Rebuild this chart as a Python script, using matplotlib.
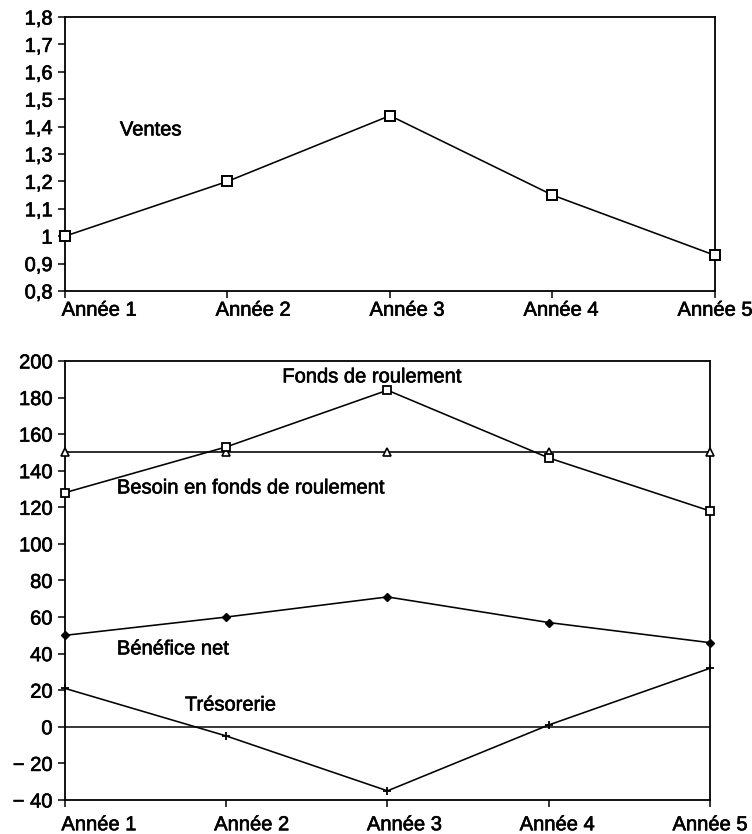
import numpy as np
import matplotlib.pyplot as plt
import matplotlib.patheffects as pe

plt.rcParams.update({
    "font.family": ["Liberation Sans", "DejaVu Sans"],
    "font.size": 14.5,
    "axes.linewidth": 1.3,
    "xtick.major.size": 5,
    "ytick.major.size": 5,
    "xtick.minor.size": 0,
    "xtick.major.width": 1.1,
    "ytick.major.width": 1.1,
    "lines.linewidth": 1.15,
})

# Data
annees = ["Année 1", "Année 2", "Année 3", "Année 4", "Année 5"]
ventes = [1.0, 1.2, 1.44, 1.15, 0.93]

fonds_roulement = [128, 153, 184, 147, 118]
besoin_fr = [150, 150, 150, 150, 150]
benefice_net = [50, 60, 71, 57, 46]
tresorerie = [21, -5, -35, 1, 32]

ventes_ticks = [0.8, 0.9, 1.0, 1.1, 1.2, 1.3, 1.4, 1.5, 1.6, 1.7, 1.8]
ventes_ticklabels = ["0,8", "0,9", "1", "1,1", "1,2", "1,3", "1,4", "1,5", "1,6", "1,7", "1,8"]
bas_ticks = [-40, -20, 0, 20, 40, 60, 80, 100, 120, 140, 160, 180, 200]
bas_ticklabels = ["\u2212 40", "\u2212 20"] + [str(v) for v in bas_ticks[2:]]

x = np.arange(1, len(annees) + 1)
# category names sit on their own, slightly wider-spread positions
label_pos = np.linspace(1.21, 5.0, len(annees))

# slightly heavier strokes for all text, like printed Helvetica
thick = [pe.withStroke(linewidth=0.45, foreground="black")]


def category_axis(ax, pad):
    ax.set_xlim(1, 5)
    ax.xaxis.remove_overlapping_locs = False
    ax.set_xticks(x)
    ax.set_xticklabels([])
    ax.set_xticks(label_pos, minor=True)
    ax.set_xticklabels(annees, minor=True)
    ax.tick_params(axis="x", which="minor", pad=pad)


fig = plt.figure(figsize=(7.52, 8.34), dpi=100)

# Upper panel: sales index
ax1 = fig.add_axes([0.0864, 0.6511, 0.8644, 0.3285])
ax1.plot(x, ventes, color="black", marker="s", markersize=7,
         markerfacecolor="white", markeredgecolor="black", markeredgewidth=1.4,
         clip_on=False, zorder=3)
category_axis(ax1, pad=7)
ax1.set_ylim(0.8, 1.8)
ax1.set_yticks(ventes_ticks)
ax1.set_yticklabels(ventes_ticklabels)
ax1.text(1.338, 1.388, "Ventes", ha="left", va="center", path_effects=thick)

# Lower panel: working capital, needs, profit, cash
ax2 = fig.add_axes([0.0864, 0.0408, 0.8577, 0.5264])
ax2.axhline(0, color="black", lw=1.1, zorder=1)
ax2.plot(x, besoin_fr, color="black", marker="^", markersize=6,
         markerfacecolor="white", markeredgecolor="black", markeredgewidth=1.2,
         clip_on=False, zorder=3)
ax2.plot(x, fonds_roulement, color="black", marker="s", markersize=6,
         markerfacecolor="white", markeredgecolor="black", markeredgewidth=1.3,
         clip_on=False, zorder=3)
ax2.plot(x, benefice_net, color="black", marker="D", markersize=4.5,
         markerfacecolor="black", markeredgecolor="black", clip_on=False, zorder=3)
ax2.plot(x, tresorerie, color="black", marker="+", markersize=6,
         markeredgewidth=1.3, clip_on=False, zorder=3)
category_axis(ax2, pad=11)
ax2.set_ylim(-40, 200)
ax2.set_yticks(bas_ticks)
ax2.set_yticklabels(bas_ticklabels)

ax2.text(2.904, 191.3, "Fonds de roulement", ha="center", va="center", path_effects=thick)
ax2.text(1.322, 130.6, "Besoin en fonds de roulement", ha="left", va="center",
         path_effects=thick)
ax2.text(1.322, 42.6, "Bénéfice net", ha="left", va="center", path_effects=thick)
ax2.text(1.744, 11.9, "Trésorerie", ha="left", va="center", path_effects=thick)

for ax in (ax1, ax2):
    ax.tick_params(axis="y", direction="out", pad=4, colors="black")
    ax.tick_params(axis="x", which="major", direction="out", colors="black")
    labels = (ax.get_xticklabels(minor=True) + ax.get_yticklabels())
    for lab in labels:
        lab.set_path_effects(thick)

fig.savefig("out.png", dpi=100)
